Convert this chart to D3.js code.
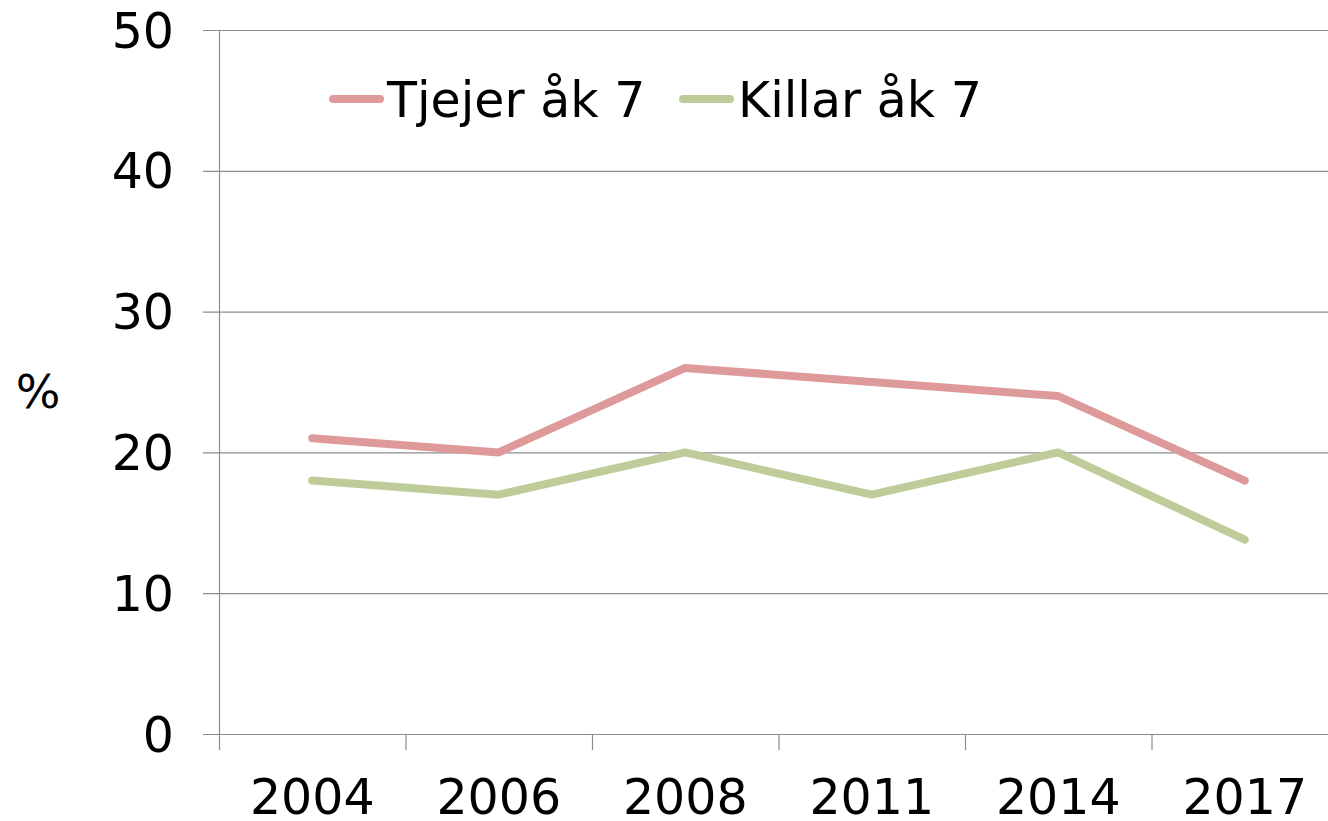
<!DOCTYPE html>
<html><head><meta charset="utf-8">
<script src="https://cdn.jsdelivr.net/npm/d3@7"></script>
<style>body{margin:0;background:#fff}svg{display:block}text{font-family:"DejaVu Sans",Verdana,sans-serif}</style>
</head><body>
<svg id="c" width="1328" height="821"></svg>
<script>
const categories = ["2004","2006","2008","2011","2014","2017"];
const tjejer = [21,20,26,25,24,18];
const killar = [18,17,20,17,20,13.8];
const seriesNames = ["Tjejer åk 7","Killar åk 7"];
const seriesColors = ["#DE9A9A","#BDCC98"];
const yTicks = [0,10,20,30,40,50];

const svg = d3.select("#c");
const m = {l:219, r:1338, t:30, b:734};
const x = d3.scaleBand().domain(categories).range([m.l, m.r]);
const y = d3.scaleLinear().domain([0,50]).range([m.b, m.t]);

// gridlines
svg.append("g").selectAll("line").data(yTicks).join("line")
  .attr("x1", m.l-16).attr("x2", 1328).attr("y1", d=>y(d)+0.5).attr("y2", d=>y(d)+0.5)
  .attr("stroke", "#8c8c8c").attr("stroke-width", 1.2);
// y axis line
svg.append("line").attr("x1", m.l+0.5).attr("x2", m.l+0.5).attr("y1", m.t).attr("y2", m.b+16)
  .attr("stroke", "#8c8c8c").attr("stroke-width", 1.2);
// x ticks
const xb = categories.map(c=>x(c));
svg.append("g").selectAll("line").data(xb.slice(1)).join("line")
  .attr("x1", d=>d+0.5).attr("x2", d=>d+0.5).attr("y1", m.b).attr("y2", m.b+16)
  .attr("stroke", "#8c8c8c").attr("stroke-width", 1.2);
// y labels
svg.append("g").selectAll("text").data(yTicks).join("text")
  .attr("x", 174).attr("y", d=>y(d)).attr("dy","0.36em").attr("text-anchor","end")
  .attr("font-size", 49).attr("fill","#000").text(d=>d);
// x labels
svg.append("g").selectAll("text").data(categories).join("text")
  .attr("x", d=>x(d)+x.bandwidth()/2).attr("y", 814).attr("text-anchor","middle")
  .attr("font-size", 49).attr("fill","#000").text(d=>d);
// % label
svg.append("text").attr("x", 38).attr("y", 391).attr("dy","0.36em").attr("text-anchor","middle")
  .attr("font-size", 47).text("%");

const line = d3.line().x((d,i)=>x(categories[i])+x.bandwidth()/2).y(d=>y(d));
[tjejer, killar].forEach((s,i)=>{
  svg.append("path").datum(s).attr("d", line).attr("fill","none")
    .attr("stroke", seriesColors[i]).attr("stroke-width", 8)
    .attr("stroke-linecap","round").attr("stroke-linejoin","round");
});

// legend
const lg = [{x:333, tx:387},{x:683, tx:738}];
seriesNames.forEach((n,i)=>{
  svg.append("line").attr("x1", lg[i].x).attr("x2", lg[i].x+47).attr("y1", 99).attr("y2", 99)
    .attr("stroke", seriesColors[i]).attr("stroke-width", 8).attr("stroke-linecap","round");
  svg.append("text").attr("x", lg[i].tx).attr("y", 99).attr("dy","0.36em")
    .attr("font-size", 49).text(n);
});
</script>
</body></html>
